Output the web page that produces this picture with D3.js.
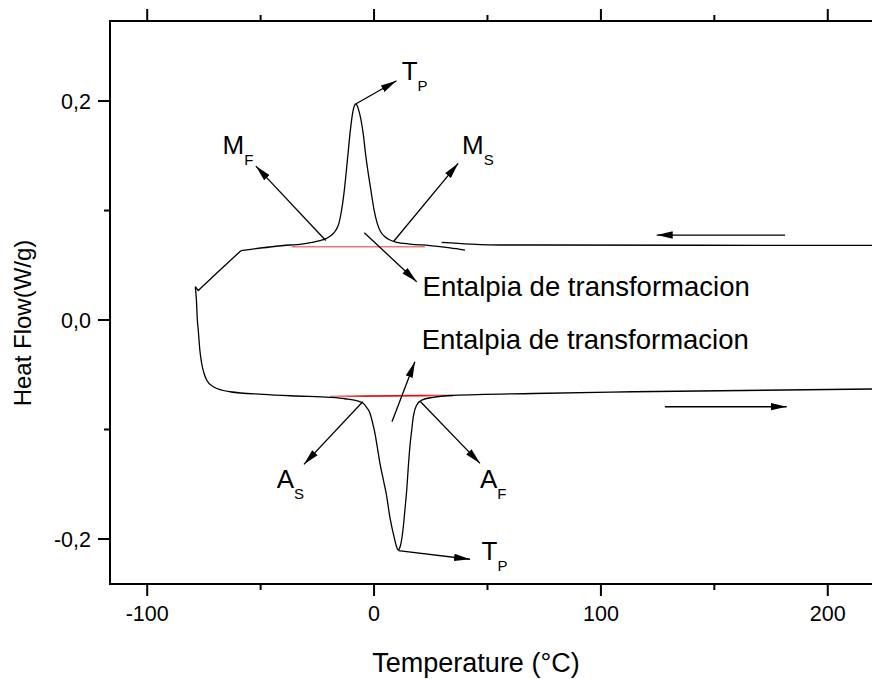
<!DOCTYPE html>
<html>
<head>
<meta charset="utf-8">
<script src="https://cdn.jsdelivr.net/npm/d3@7/dist/d3.min.js"></script>
<style>
  html, body { margin: 0; padding: 0; background: #fff; }
  svg { display: block; }
  text { font-family: "Liberation Sans", Arial, sans-serif; fill: #000; }
</style>
</head>
<body>
<svg id="chart" width="872" height="679"></svg>
<script>
// ---- Data ----
// Cooling branch, first part (start of cooling at high temperature)
const coolStartTemp = [219.5, 143.7, 70.1, 55.5, 42.3, 29.8];
const coolStartFlow = [0.0682, 0.0683, 0.0685, 0.0685, 0.0694, 0.0710];

// Cooling branch, main part (with exothermic peak)
const coolTemp = [40.1, 33.5, 24.6, 15.8, 10.0, 7.0, 4.8, 2.9, 1.4, 0.0, -1.4, -3.6, -4.8, -7.0, -7.5, -8.1, -8.6, -9.2, -10.6, -11.6, -13.1, -14.3, -15.5, -16.8, -18.7, -20.9, -23.9, -28.3, -32.7, -37.1, -45.9, -58.7, -67.9, -77.5, -78.8];
const coolFlow = [0.0639, 0.0659, 0.0680, 0.0694, 0.0710, 0.0731, 0.0761, 0.0806, 0.0883, 0.1005, 0.1187, 0.1492, 0.1705, 0.1933, 0.1960, 0.1973, 0.1960, 0.1918, 0.1705, 0.1492, 0.1187, 0.1005, 0.0883, 0.0822, 0.0776, 0.0746, 0.0724, 0.0706, 0.0691, 0.0685, 0.0667, 0.0633, 0.0457, 0.0269, 0.0304];

// Heating branch (with endothermic peak)
const heatTemp = [-78.8, -78.3, -77.9, -77.5, -76.8, -76.0, -75.0, -73.8, -70.9, -63.5, -48.9, -34.1, -19.4, -12.8, -7.7, -4.8, -3.3, -1.8, -0.6, 0.4, 1.4, 2.6, 4.1, 5.6, 6.7, 7.8, 8.8, 9.7, 10.2, 10.7, 11.2, 11.7, 12.9, 13.6, 14.4, 15.1, 15.8, 16.6, 17.3, 18.8, 21.0, 26.1, 34.9, 70.1, 114.2, 219.5];
const heatFlow = [0.0304, 0.0183, 0.0, -0.0091, -0.0274, -0.0395, -0.0484, -0.0548, -0.0609, -0.0655, -0.0679, -0.0694, -0.0706, -0.0719, -0.0737, -0.0761, -0.0797, -0.0852, -0.0943, -0.1035, -0.1157, -0.1309, -0.1461, -0.1614, -0.1765, -0.1888, -0.1979, -0.2055, -0.2086, -0.2100, -0.2086, -0.2055, -0.1888, -0.1735, -0.1553, -0.1340, -0.1157, -0.1005, -0.0883, -0.0776, -0.0731, -0.0706, -0.0689, -0.0671, -0.0655, -0.0630];

// Temperature of the sharp corner on the cooling branch
const coolKinkTemp = -58.7;

// Integration baselines (red)
const baseCoolTemp = [-36.3, 22.4];
const baseCoolFlow = [0.0669, 0.0669];
const baseHeatTemp = [-19.4, 34.9];
const baseHeatFlow = [-0.0697, -0.0688];

// Axis ticks
const xMajorTicks = [-100, 0, 100, 200];
const xMinorTicks = [-50, 50, 150];
const yMajorTicks = [-0.2, 0.0, 0.2];
const yMinorTicks = [-0.1, 0.1];
const yTickLabels = ["-0,2", "0,0", "0,2"];

// Annotation arrows: tail and head in data units
const arrowTailTemp = [-8.1, -21.3, 8.5, -4.3, 7.9, -5.0, 20.5, 10.7, 181.2, 128.2];
const arrowTailFlow = [0.1973, 0.0726, 0.0715, 0.0797, -0.0929, -0.0746, -0.0746, -0.2107, 0.0776, -0.0792];
const arrowHeadTemp = [9.9, -52.1, 37.1, 18.8, 18.0, -30.9, 46.7, 42.3, 124.6, 181.9];
const arrowHeadFlow = [0.2185, 0.1406, 0.1431, 0.0350, -0.0381, -0.1318, -0.1309, -0.2185, 0.0776, -0.0792];

// Point labels with subscripts
const labelMain = ["T", "M", "M", "A", "A", "T"];
const labelSub = ["P", "F", "S", "S", "F", "P"];
const labelTemp = [12.2, -66.8, 38.8, -42.9, 46.7, 47.4];
const labelFlow = [0.2192, 0.1516, 0.1516, -0.1537, -0.1534, -0.2192];

// Text annotations
const noteText = ["Entalpia de transformacion", "Entalpia de transformacion"];
const noteTemp = [21.4, 21.0];
const noteFlow = [0.0219, -0.0265];

// ---- Drawing ----
const svg = d3.select("#chart");
const W = 872, H = 679;
const mLeft = 110, mTop = 21, mBottom = 584;

svg.append("rect").attr("width", W).attr("height", H).attr("fill", "#fff");

const x = d3.scaleLinear().domain([-116.4, 219.5]).range([mLeft, 872]);
const y = d3.scaleLinear().domain([-0.2411, 0.2731]).range([mBottom, mTop]);

const defs = svg.append("defs");
defs.append("marker")
  .attr("id", "arrow")
  .attr("viewBox", "0 0 16 8")
  .attr("refX", 16).attr("refY", 4)
  .attr("markerWidth", 16).attr("markerHeight", 8)
  .attr("markerUnits", "userSpaceOnUse")
  .attr("orient", "auto")
  .append("path").attr("d", "M0,0.3 L16,4 L0,7.7 Z").attr("fill", "#000");

const grad = defs.append("linearGradient").attr("id", "redfade")
  .attr("x1", "0%").attr("x2", "100%").attr("y1", "0%").attr("y2", "0%");
grad.append("stop").attr("offset", "0%").attr("stop-color", "#f4a0a0");
grad.append("stop").attr("offset", "30%").attr("stop-color", "#e81010");
grad.append("stop").attr("offset", "75%").attr("stop-color", "#e81010");
grad.append("stop").attr("offset", "100%").attr("stop-color", "#f4a0a0");

const smooth = d3.line()
  .x(d => x(d[0])).y(d => y(d[1]))
  .curve(d3.curveMonotoneX);
const straight = d3.line().x(d => x(d[0])).y(d => y(d[1]));

const zip = (a, b) => a.map((v, i) => [v, b[i]]);

// red baselines
svg.append("path").attr("d", straight(zip(baseCoolTemp, baseCoolFlow)))
  .attr("fill", "none").attr("stroke", "#f07878").attr("stroke-width", 1.6);
svg.append("path").attr("d", straight(zip(baseHeatTemp, baseHeatFlow)))
  .attr("fill", "none").attr("stroke", "url(#redfade)").attr("stroke-width", 1.6);

const curveStyle = sel => sel.attr("fill", "none").attr("stroke", "#000")
  .attr("stroke-width", 1.3).attr("stroke-linejoin", "round");

// cooling start segment
const coolStartPts = zip(coolStartTemp, coolStartFlow).slice().reverse();
svg.append("path").attr("d", smooth(coolStartPts)).call(curveStyle);

// cooling main: smooth part (peak) and straight part (kink + hook)
const coolPts = zip(coolTemp, coolFlow);
const kinkIdx = coolTemp.indexOf(coolKinkTemp);
svg.append("path").attr("d", smooth(coolPts.slice(0, kinkIdx + 1).reverse())).call(curveStyle);
svg.append("path").attr("d", straight(coolPts.slice(kinkIdx))).call(curveStyle);

// heating branch
svg.append("path").attr("d", smooth(zip(heatTemp, heatFlow))).call(curveStyle);

// arrows
arrowTailTemp.forEach((t, i) => {
  svg.append("line")
    .attr("x1", x(t)).attr("y1", y(arrowTailFlow[i]))
    .attr("x2", x(arrowHeadTemp[i])).attr("y2", y(arrowHeadFlow[i]))
    .attr("stroke", "#000").attr("stroke-width", 1.3)
    .attr("marker-end", "url(#arrow)");
});

// labels with subscripts
labelMain.forEach((m, i) => {
  const t = svg.append("text")
    .attr("x", x(labelTemp[i])).attr("y", y(labelFlow[i]))
    .attr("font-size", 26);
  t.append("tspan").text(m);
  t.append("tspan").attr("font-size", 15).attr("dy", 11).text(labelSub[i]);
});

noteText.forEach((s, i) => {
  svg.append("text").attr("x", x(noteTemp[i])).attr("y", y(noteFlow[i]))
    .attr("font-size", 27.5).text(s);
});

// frame
svg.append("path")
  .attr("d", `M${mLeft},${mTop} L${W + 10},${mTop} M${mLeft},${mTop} L${mLeft},${mBottom} L${W + 10},${mBottom}`)
  .attr("fill", "none").attr("stroke", "#000").attr("stroke-width", 2)
  .attr("stroke-linecap", "square");

// x ticks (bottom and top, outward)
const xAxisBottom = svg.append("g").attr("transform", `translate(0,${mBottom})`);
xMajorTicks.forEach(v => {
  xAxisBottom.append("line").attr("x1", x(v)).attr("x2", x(v)).attr("y1", 0).attr("y2", 12)
    .attr("stroke", "#000").attr("stroke-width", 2);
  xAxisBottom.append("text").attr("x", x(v)).attr("y", 37).attr("text-anchor", "middle")
    .attr("font-size", 21.5).text(String(v));
});
xMinorTicks.forEach(v => {
  xAxisBottom.append("line").attr("x1", x(v)).attr("x2", x(v)).attr("y1", 0).attr("y2", 6)
    .attr("stroke", "#000").attr("stroke-width", 2);
});
const xAxisTop = svg.append("g").attr("transform", `translate(0,${mTop})`);
xMajorTicks.forEach(v => {
  xAxisTop.append("line").attr("x1", x(v)).attr("x2", x(v)).attr("y1", 0).attr("y2", -12)
    .attr("stroke", "#000").attr("stroke-width", 2);
});
xMinorTicks.forEach(v => {
  xAxisTop.append("line").attr("x1", x(v)).attr("x2", x(v)).attr("y1", 0).attr("y2", -6)
    .attr("stroke", "#000").attr("stroke-width", 2);
});

// y ticks
const yAxis = svg.append("g").attr("transform", `translate(${mLeft},0)`);
yMajorTicks.forEach((v, i) => {
  yAxis.append("line").attr("x1", 0).attr("x2", -12).attr("y1", y(v)).attr("y2", y(v))
    .attr("stroke", "#000").attr("stroke-width", 2);
  yAxis.append("text").attr("x", -19).attr("y", y(v)).attr("dy", "0.36em")
    .attr("text-anchor", "end").attr("font-size", 21.5).text(yTickLabels[i]);
});
yMinorTicks.forEach(v => {
  yAxis.append("line").attr("x1", 0).attr("x2", -6).attr("y1", y(v)).attr("y2", y(v))
    .attr("stroke", "#000").attr("stroke-width", 2);
});

// axis titles
svg.append("text").attr("x", 476).attr("y", 672).attr("text-anchor", "middle")
  .attr("font-size", 27).text("Temperature (°C)");
svg.append("text").attr("transform", "translate(31,323) rotate(-90)")
  .attr("text-anchor", "middle").attr("font-size", 24).text("Heat Flow(W/g)");
</script>
</body>
</html>
